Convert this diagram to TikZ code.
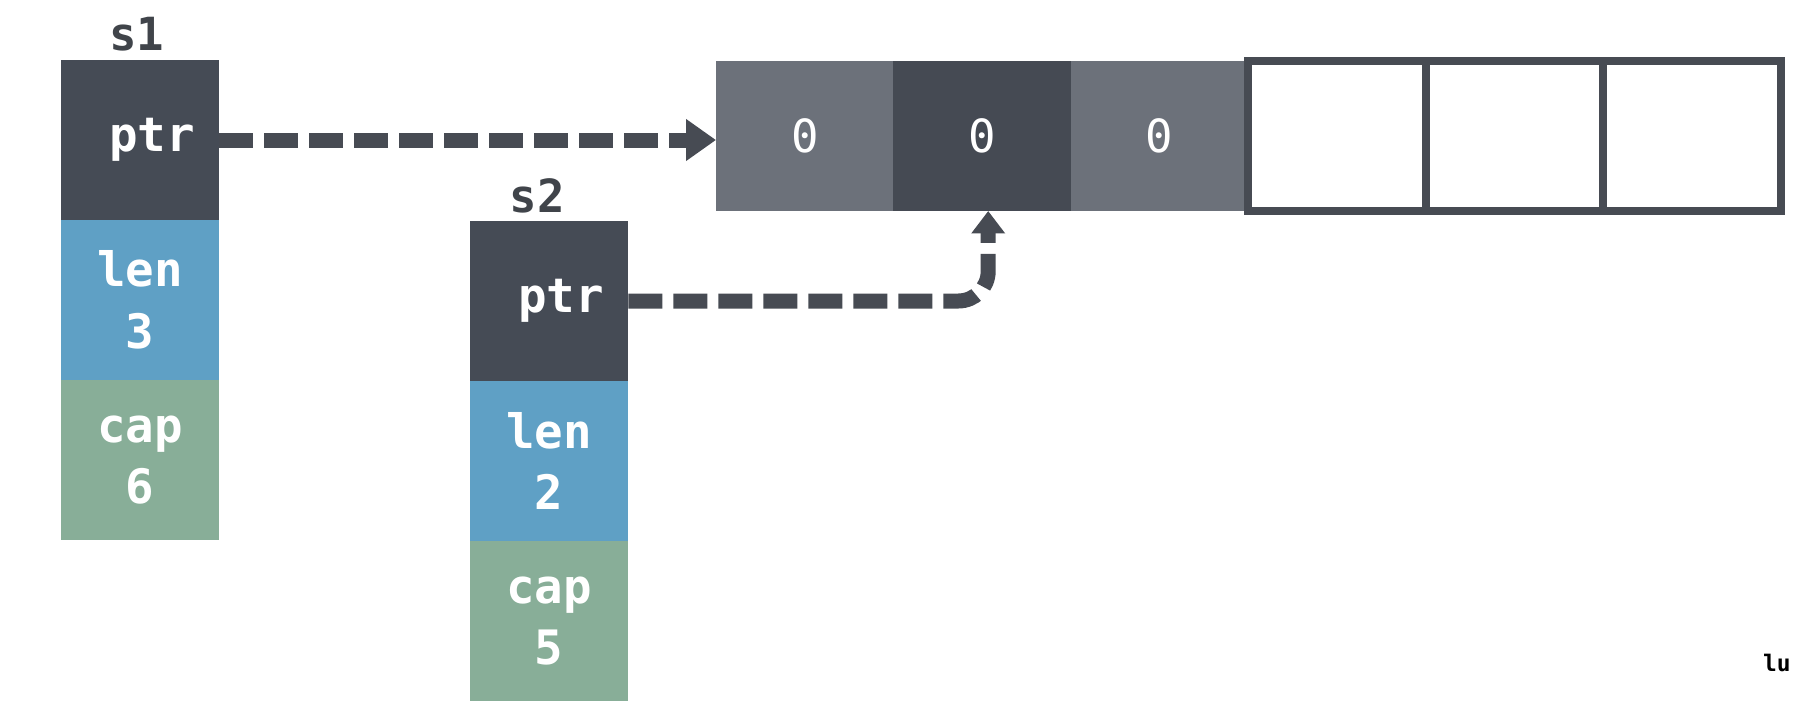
\documentclass[tikz,border=0pt]{standalone}
\usepackage{fontspec}
\setmonofont{DejaVu Sans Mono}
\usetikzlibrary{positioning,arrows.meta}
\definecolor{ptrgray}{HTML}{454B55}
\definecolor{lenblue}{HTML}{5FA0C5}
\definecolor{capgreen}{HTML}{88AE98}
\definecolor{cellgray}{HTML}{6C717A}
\definecolor{celldark}{HTML}{454A53}
\definecolor{linegray}{HTML}{474B53}
\definecolor{labelgray}{HTML}{40444A}
\tikzstyle{field} = [rectangle, minimum width=3.18cm, minimum height=3.2cm, outer sep=0pt, inner sep=0pt, align=center, text=white, font=\ttfamily\bfseries\fontsize{27}{35}\selectfont]
\tikzstyle{ptrfield} = [field, fill=ptrgray, text width=2.2cm, align=right]
\tikzstyle{lenfield} = [field, fill=lenblue]
\tikzstyle{capfield} = [field, fill=capgreen]
\tikzstyle{cell} = [rectangle, minimum width=3.55cm, minimum height=3cm, outer sep=0pt, text=white, font=\ttfamily\fontsize{26}{30}\selectfont]
\tikzstyle{fullcell} = [cell, fill=cellgray]
\tikzstyle{emptycell} = [cell, draw=linegray, line width=0.16cm, fill=white]
\tikzstyle{varname} = [text=labelgray, font=\ttfamily\bfseries\fontsize{26}{30}\selectfont]
\tikzstyle{pointer} = [line width=0.3cm, draw=linegray, dash pattern=on 0.68cm off 0.22cm, -{Triangle[length=0.6cm,width=0.8cm]}]
\begin{document}
\begin{tikzpicture}[x=0.02cm, y=-0.02cm]
\useasboundingbox (0,0) rectangle (1796,718);

% s1
\node (s1ptr) [ptrfield] at (140,140) {ptr};
\node (s1len) [lenfield, below=0cm of s1ptr] {len\\3};
\node (s1cap) [capfield, below=0cm of s1len] {cap\\6};
\node (s1name) [varname, above=0.06cm of s1ptr, xshift=-0.06cm] {s1};

% s2
\node (s2ptr) [ptrfield] at (549,301) {ptr};
\node (s2len) [lenfield, below=0cm of s2ptr] {len\\2};
\node (s2cap) [capfield, below=0cm of s2len] {cap\\5};
\node (s2name) [varname, above=0.03cm of s2ptr, xshift=-0.24cm] {s2};

% backing array
\node (c1) [fullcell] at (804.75,136) {0};
\node (c2) [fullcell, fill=celldark, right=0cm of c1] {0};
\node (c3) [fullcell, right=0cm of c2] {0};
\node (c4) [emptycell, right=0cm of c3] {};
\node (c5) [emptycell, right=0cm of c4] {};
\node (c6) [emptycell, right=0cm of c5] {};

\node (mark) [anchor=west, text=black, font=\ttfamily\bfseries\fontsize{13}{15}\selectfont] at (1757,663) {lu};

\draw [pointer] (s1ptr.east) -- (s1ptr.east -| c1.west);
\draw [pointer, rounded corners=0.6cm, -{Triangle[length=0.45cm,width=0.65cm]}] (s2ptr.east) -| ([xshift=0.12cm]c2.south);

\end{tikzpicture}
\end{document}
